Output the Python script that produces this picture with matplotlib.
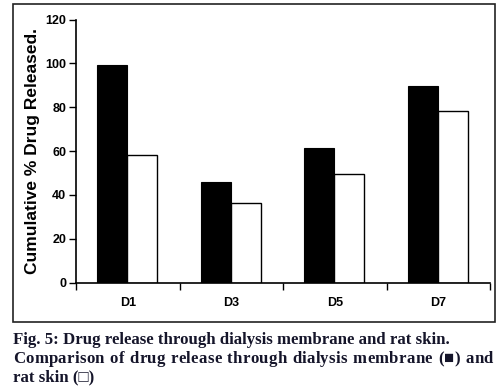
import matplotlib
matplotlib.use("Agg")
import matplotlib.pyplot as plt
import numpy as np
from matplotlib.patches import Rectangle
from matplotlib.font_manager import FontProperties

# data
categories = ["D1", "D3", "D5", "D7"]
dialysis = [99.3, 45.9, 61.5, 89.8]
rat_skin = [58.2, 36.3, 49.6, 78.4]
y_ticks = [0, 20, 40, 60, 80, 100, 120]

fig = plt.figure(figsize=(4.96, 3.9), dpi=100)
fig.patch.set_facecolor("white")

# outer frame around the chart
fig.patches.append(Rectangle((13 / 496, 1 - 322 / 390), 482 / 496, 318 / 390,
                             transform=fig.transFigure, fill=False,
                             edgecolor="#222222", linewidth=1.2))

ax = fig.add_axes([76 / 496, 1 - 282.7 / 390, 414 / 496, 263.2 / 390])

x = np.arange(len(categories))
w = 0.29
ax.bar(x - w / 2 - 0.005, dialysis, w, color="black", edgecolor="black", linewidth=0.8)
ax.bar(x + w / 2 - 0.005, rat_skin, w, color="white", edgecolor="black", linewidth=1.0)

ax.set_xlim(-0.5, len(categories) - 0.5)
ax.set_ylim(0, 120)
ax.set_yticks(y_ticks)
ax.set_yticklabels([str(v) for v in y_ticks], fontsize=9, fontweight="bold",
                   family="Liberation Sans")
ax.set_xticks(np.arange(len(categories) + 1) - 0.5)
ax.set_xticklabels([])
for i, c in enumerate(categories):
    ax.text(i, -9.3, c, ha="center", va="center", fontsize=9, fontweight="bold",
            family="Liberation Sans")
ax.tick_params(axis="both", direction="out", length=5, width=1, colors="black")
ax.tick_params(axis="y", pad=2)
for s in ["top", "right"]:
    ax.spines[s].set_visible(False)
for s in ["left", "bottom"]:
    ax.spines[s].set_linewidth(1.2)

ax.set_ylabel("Cumulative % Drug Released.", fontsize=12.5, fontweight="bold",
              family="Liberation Sans", labelpad=4)

# caption, sized so that the first line spans like the reference
line1 = "Fig. 5: Drug release through dialysis membrane and rat skin."
line2 = "Comparison of drug release through dialysis membrane (\u25a0) and"
line3 = "rat skin (\u25a1)"
cap_family = ["Liberation Serif", "DejaVu Sans"]
cap_color = "#15152a"

fig.canvas.draw()
renderer = fig.canvas.get_renderer()


def text_w(s, size):
    if not s:
        return 0.0
    prop = FontProperties(family=cap_family, weight="bold", size=size)
    return renderer.get_text_width_height_descent(s, prop, ismath=False)[0]


cap_size = 10 * (450 - 13) / text_w(line1, 10)
cap_kw = dict(fontsize=cap_size, fontweight="bold", color=cap_color,
              family=cap_family, va="baseline")
fig.text(13 / 496, 1 - 344 / 390, line1, **cap_kw)

# second line justified: extra room spread over letters, more over spaces
x0, x1 = 13, 493
natural = text_w(line2, cap_size)
weights = [4.0 if ch == " " else 1.0 for ch in line2[:-1]]
unit = (x1 - x0 - natural) / sum(weights)
shift = 0.0
for i, ch in enumerate(line2):
    if ch != " ":
        px = x0 + text_w(line2[:i], cap_size) + shift
        fig.text(px / 496, 1 - 363 / 390, ch, **cap_kw)
    if i < len(weights):
        shift += weights[i] * unit

fig.text(13 / 496, 1 - 381 / 390, line3, **cap_kw)

fig.savefig("out.png", dpi=100)
